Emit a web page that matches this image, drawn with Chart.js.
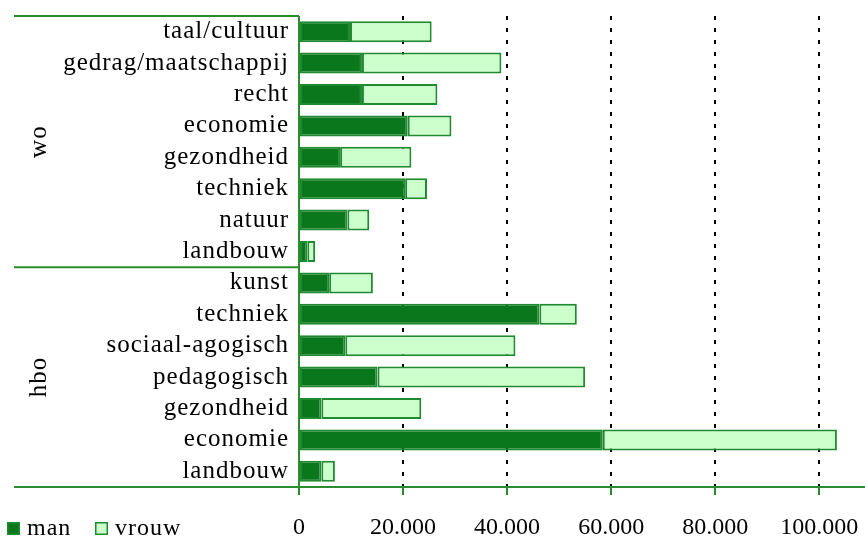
<!DOCTYPE html>
<html>
<head>
<meta charset="utf-8">
<script src="https://cdn.jsdelivr.net/npm/chart.js@4/dist/chart.umd.min.js"></script>
<style>
  html, body { margin: 0; padding: 0; background: #fff; }
  #wrap { width: 865px; height: 539px; position: relative; }
</style>
</head>
<body>
<div id="wrap"><canvas id="studyChart"></canvas></div>
<script>
const categories = [
    'taal/cultuur', 'gedrag/maatschappij', 'recht', 'economie', 'gezondheid', 'techniek', 'natuur', 'landbouw',
    'kunst', 'techniek', 'sociaal-agogisch', 'pedagogisch', 'gezondheid', 'economie', 'landbouw'
];
const manValues = [9800, 12100, 12100, 20900, 7900, 20400, 9300, 1600, 5800, 46200, 8900, 15100, 4300, 58400, 4300];
const vrouwValues = [15700, 26800, 14500, 8400, 13700, 4200, 4200, 1500, 8400, 7200, 32700, 39900, 19200, 45000, 2600];
const groups = [
    { name: 'wo', first: 0, last: 7 },
    { name: 'hbo', first: 8, last: 14 }
];
const tickValues = [0, 20000, 40000, 60000, 80000, 100000];

const GREEN_LINE = '#2a8c2a';
const FONT = "'Liberation Serif', 'Times New Roman', serif";

// extra drawing: frame lines, group labels, legend
const framePlugin = {
    id: 'frame',
    beforeDraw(chart) {
        chart.ctx.letterSpacing = '0px';
        // category labels are a bit spaced out in the original
        const ys = chart.scales.y;
        if (!ys._spaced) {
            const orig = ys.drawLabels;
            ys.drawLabels = function(area) {
                this.ctx.letterSpacing = '1px';
                orig.call(this, area);
                this.ctx.letterSpacing = '0px';
            };
            ys._spaced = true;
        }
    },
    afterDatasetsDraw(chart) {
        const ctx = chart.ctx;
        const area = chart.chartArea;
        const y = chart.scales.y;
        const left = 14;
        ctx.save();
        ctx.strokeStyle = GREEN_LINE;
        ctx.lineWidth = 2;
        ctx.beginPath();
        ctx.moveTo(left, area.top);
        ctx.lineTo(area.left, area.top);
        ctx.moveTo(left, area.bottom);
        ctx.lineTo(chart.width, area.bottom);
        ctx.moveTo(area.left, area.top);
        ctx.lineTo(area.left, area.bottom);
        groups.forEach(function(g, i) {
            if (i === 0) return;
            const sep = (y.getPixelForValue(g.first - 1) + y.getPixelForValue(g.first)) / 2;
            ctx.moveTo(left, sep);
            ctx.lineTo(area.left, sep);
        });
        ctx.stroke();

        // group names, rotated
        ctx.letterSpacing = '1px';
        ctx.fillStyle = '#000';
        ctx.font = '25px ' + FONT;
        ctx.textAlign = 'center';
        ctx.textBaseline = 'middle';
        groups.forEach(function(g, i) {
            const top = i === 0 ? area.top : (y.getPixelForValue(g.first - 1) + y.getPixelForValue(g.first)) / 2;
            const bottom = i === groups.length - 1 ? area.bottom : (y.getPixelForValue(g.last) + y.getPixelForValue(g.last + 1)) / 2;
            ctx.save();
            ctx.translate(39, (top + bottom) / 2);
            ctx.rotate(-Math.PI / 2);
            ctx.fillText(g.name, 0, 0);
            ctx.restore();
        });

        // legend
        const items = chart.data.datasets;
        let lx = 7;
        ctx.font = '24px ' + FONT;
        ctx.textAlign = 'left';
        ctx.textBaseline = 'alphabetic';
        items.forEach(function(ds, i) {
            ctx.fillStyle = ds.backgroundColor;
            ctx.fillRect(lx, 522, 13, 13);
            ctx.strokeStyle = ds.borderColor;
            ctx.lineWidth = 1.5;
            ctx.strokeRect(lx + 0.75, 522.75, 11.5, 11.5);
            ctx.fillStyle = '#000';
            ctx.fillText(ds.label, lx + 20, 535);
            lx = 95;
        });
        ctx.restore();
    }
};

const chartConfig = {
    type: 'bar',
    data: {
        labels: categories,
        datasets: [
            {
                label: 'man',
                data: manValues,
                backgroundColor: '#0b771d',
                borderColor: '#1f8a2f',
                borderWidth: 2,
                borderSkipped: false,
                barPercentage: 0.67,
                categoryPercentage: 1
            },
            {
                label: 'vrouw',
                data: vrouwValues,
                backgroundColor: '#ccffcc',
                borderColor: '#1f8a2f',
                borderWidth: 2,
                borderSkipped: false,
                barPercentage: 0.67,
                categoryPercentage: 1
            }
        ]
    },
    options: {
        indexAxis: 'y',
        responsive: true,
        maintainAspectRatio: false,
        animation: false,
        layout: {
            padding: { top: 16, right: 0, bottom: 0, left: 0 }
        },
        plugins: {
            legend: { display: false },
            tooltip: { enabled: false }
        },
        scales: {
            x: {
                stacked: true,
                min: 0,
                max: 108800,
                afterBuildTicks: function(scale) {
                    scale.ticks = tickValues.map(function(v) { return { value: v }; });
                },
                afterFit: function(scale) {
                    scale.height = 52;
                    scale.paddingLeft = 0;
                    scale.paddingRight = 0;
                },
                grid: {
                    color: function(c) {
                        return c.tick && c.tick.value === 0 ? 'rgba(0,0,0,0)' : '#000';
                    },
                    lineWidth: 2,
                    drawTicks: true,
                    tickLength: 8,
                    tickWidth: 2,
                    tickColor: GREEN_LINE,
                    tickBorderDash: []
                },
                border: {
                    display: false,
                    dash: [4, 8]
                },
                ticks: {
                    color: '#000',
                    padding: 18,
                    maxRotation: 0,
                    font: { family: FONT, size: 24 },
                    callback: function(value) {
                        return value.toLocaleString('nl-NL');
                    }
                }
            },
            y: {
                stacked: true,
                afterFit: function(scale) {
                    scale.width = 299;
                    scale.paddingTop = 0;
                    scale.paddingBottom = 0;
                },
                grid: {
                    display: false,
                    drawTicks: false
                },
                border: { display: false },
                ticks: {
                    color: '#000',
                    padding: 10,
                    autoSkip: false,
                    font: { family: FONT, size: 25 }
                }
            }
        }
    },
    plugins: [framePlugin]
};

const ctx = document.getElementById('studyChart').getContext('2d');
const studyChart = new Chart(ctx, chartConfig);
</script>
</body>
</html>
